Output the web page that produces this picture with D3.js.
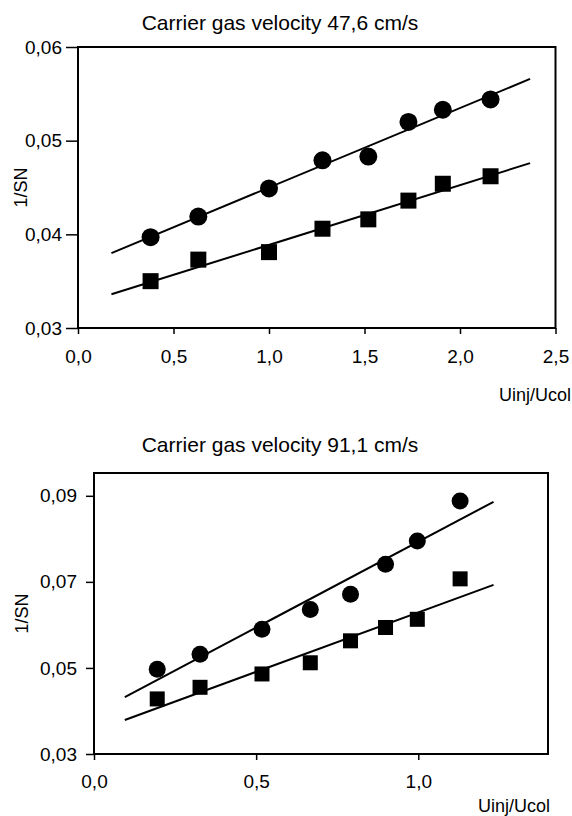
<!DOCTYPE html>
<html>
<head>
<meta charset="utf-8">
<script src="https://cdn.jsdelivr.net/npm/d3@7"></script>
<style>
  html, body { margin: 0; padding: 0; background: #fff; }
  svg { display: block; }
  text { font-family: "Liberation Sans", Arial, sans-serif; fill: #000; }
</style>
</head>
<body>
<svg id="chart" width="572" height="816"></svg>
<script>
// ---------- Data ----------
const topTitle = "Carrier gas velocity 47,6 cm/s";
const topX = [0.38, 0.63, 1.00, 1.28, 1.52, 1.73, 1.91, 2.16];
const topCircles = [0.0397, 0.0419, 0.0449, 0.0479, 0.0483, 0.0520, 0.0533, 0.0544];
const topSquares = [0.0350, 0.0373, 0.0381, 0.0406, 0.0416, 0.0436, 0.0454, 0.0462];
const topFitX = [0.175, 2.367];
const topFitCircles = [0.0380, 0.0566];
const topFitSquares = [0.0336, 0.0476];
const topXTicks = [0, 0.5, 1.0, 1.5, 2.0, 2.5];
const topYTicks = [0.03, 0.04, 0.05, 0.06];

const botTitle = "Carrier gas velocity 91,1 cm/s";
const botX = [0.195, 0.327, 0.518, 0.667, 0.791, 0.899, 0.997, 1.129];
const botCircles = [0.0497, 0.0532, 0.0590, 0.0636, 0.0671, 0.0741, 0.0795, 0.0888];
const botSquares = [0.0428, 0.0455, 0.0486, 0.0512, 0.0563, 0.0594, 0.0613, 0.0707];
const botFitX = [0.095, 1.232];
const botFitCircles = [0.0432, 0.0886];
const botFitSquares = [0.0379, 0.0693];
const botXTicks = [0, 0.5, 1.0];
const botYTicks = [0.03, 0.05, 0.07, 0.09];

const yLabel = "1/SN";
const xLabel = "Uinj/Ucol";

// ---------- Drawing ----------
const svg = d3.select("#chart");
const comma = f => v => d3.format(f)(v).replace(".", ",");

function panel(cfg) {
  const x = d3.scaleLinear().domain(cfg.xDomain).range([cfg.left, cfg.right]);
  const y = d3.scaleLinear().domain(cfg.yDomain).range([cfg.bottom, cfg.top]);
  const g = svg.append("g");

  // title
  g.append("text").attr("x", cfg.titleX).attr("y", cfg.titleY)
    .attr("text-anchor", "middle").style("font-size", "21px").text(cfg.title);

  // fit lines
  const line = d3.line().x(d => x(d[0])).y(d => y(d[1]));
  [cfg.fitC, cfg.fitS].forEach(fy => {
    g.append("path").datum(cfg.fitX.map((v, i) => [v, fy[i]]))
      .attr("d", line).attr("fill", "none").attr("stroke", "#000").attr("stroke-width", 2);
  });

  // markers
  g.selectAll(".c").data(cfg.xs.map((v, i) => [v, cfg.circles[i]])).enter()
    .append("circle").attr("cx", d => x(d[0])).attr("cy", d => y(d[1]))
    .attr("r", cfg.r).attr("fill", "#000");
  g.selectAll(".s").data(cfg.xs.map((v, i) => [v, cfg.squares[i]])).enter()
    .append("rect").attr("x", d => x(d[0]) - cfg.sq / 2).attr("y", d => y(d[1]) - cfg.sq / 2)
    .attr("width", cfg.sq).attr("height", cfg.sq).attr("fill", "#000");

  // frame
  g.append("rect").attr("x", cfg.left).attr("y", cfg.top)
    .attr("width", cfg.right - cfg.left).attr("height", cfg.bottom - cfg.top)
    .attr("fill", "none").attr("stroke", "#000").attr("stroke-width", 2);

  // axes
  const xa = g.append("g").attr("transform", `translate(0,${cfg.bottom})`)
    .call(d3.axisBottom(x).tickValues(cfg.xTicks).tickFormat(comma(".1f"))
      .tickSize(6).tickSizeOuter(0).tickPadding(cfg.xPad));
  const ya = g.append("g").attr("transform", `translate(${cfg.left},0)`)
    .call(d3.axisLeft(y).tickValues(cfg.yTicks).tickFormat(comma(".2f"))
      .tickSize(cfg.yTick).tickSizeOuter(0).tickPadding(cfg.yPad));
  [xa, ya].forEach(a => {
    a.select(".domain").remove();
    a.selectAll("line").attr("stroke", "#000").attr("stroke-width", 1.5);
    a.selectAll("text").style("font-size", "19px").style("font-family", '"Liberation Sans", Arial, sans-serif');
  });

  // axis labels
  g.append("text").attr("x", cfg.xLabelX).attr("y", cfg.xLabelY)
    .attr("text-anchor", "end").style("font-size", "18px").text(xLabel);
  g.append("text")
    .attr("transform", `translate(${cfg.yLabelX},${(cfg.top + cfg.bottom) / 2}) rotate(-90)`)
    .attr("text-anchor", "middle").style("font-size", "18px").text(yLabel);
}

panel({
  title: topTitle, titleX: 280, titleY: 30,
  xDomain: [0, 2.5], yDomain: [0.03, 0.06],
  left: 78, right: 555.5, top: 47, bottom: 328,
  xs: topX, circles: topCircles, squares: topSquares,
  fitX: topFitX, fitC: topFitCircles, fitS: topFitSquares,
  xTicks: topXTicks, yTicks: topYTicks,
  r: 9, sq: 16, xPad: 16, yTick: 12, yPad: 4,
  xLabelX: 571, xLabelY: 401, yLabelX: 27
});

panel({
  title: botTitle, titleX: 280, titleY: 452,
  xDomain: [0, 1.4], yDomain: [0.03, 0.0953],
  left: 94, right: 548, top: 473, bottom: 754,
  xs: botX, circles: botCircles, squares: botSquares,
  fitX: botFitX, fitC: botFitCircles, fitS: botFitSquares,
  xTicks: botXTicks, yTicks: botYTicks,
  r: 8.5, sq: 15, xPad: 15, yTick: 8, yPad: 9,
  xLabelX: 550, xLabelY: 812, yLabelX: 28
});
</script>
</body>
</html>
